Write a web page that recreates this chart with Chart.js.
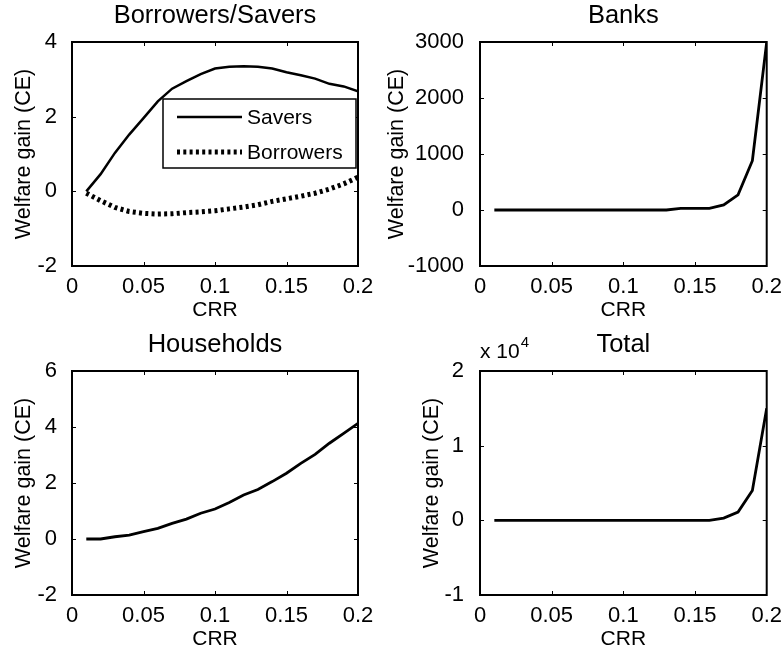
<!DOCTYPE html>
<html>
<head>
<meta charset="utf-8">
<script src="https://cdn.jsdelivr.net/npm/chart.js@4.4.0/dist/chart.umd.min.js"></script>
<style>
  body { margin: 0; background: #fff; }
  canvas { position: absolute; }
</style>
</head>
<body>
<canvas id="cBS" width="391" height="326" style="left:0;top:0"></canvas>
<canvas id="cBanks" width="402" height="326" style="left:380px;top:0"></canvas>
<canvas id="cHH" width="391" height="326" style="left:0;top:329px"></canvas>
<canvas id="cTotal" width="402" height="326" style="left:380px;top:329px"></canvas>
<script>
// CRR grid
const crr = [0.01, 0.02, 0.03, 0.04, 0.05, 0.06, 0.07, 0.08, 0.09, 0.10,
             0.11, 0.12, 0.13, 0.14, 0.15, 0.16, 0.17, 0.18, 0.19, 0.20];

// welfare gains
const savers = [0, 0.46, 1.03, 1.52, 1.96, 2.41, 2.75, 2.95, 3.14, 3.29,
                3.34, 3.35, 3.34, 3.29, 3.19, 3.11, 3.02, 2.88, 2.81, 2.68];
const borrowers = [-0.05, -0.25, -0.43, -0.54, -0.59, -0.61, -0.60, -0.57, -0.55, -0.52,
                   -0.47, -0.42, -0.36, -0.27, -0.20, -0.13, -0.05, 0.06, 0.20, 0.38];
const banks = [0, 0, 0, 0, 0, 0, 0, 0, 0, 0,
               0, 0, 0, 30, 30, 30, 90, 270, 880, 3000];
const households = [0, 0, 0.08, 0.14, 0.26, 0.38, 0.56, 0.71, 0.92, 1.07,
                    1.30, 1.57, 1.77, 2.05, 2.35, 2.70, 3.02, 3.42, 3.77, 4.13];
const total = [0, 0, 0, 0, 0, 0, 0, 0, 0, 0,
               0, 0, 0, 0, 0, 0, 300, 1100, 4000, 15000];

// tick labels
const xTicks = [0, 0.05, 0.1, 0.15, 0.2];
const yTicksBS = [-2, 0, 2, 4];
const yTicksBanks = [-1000, 0, 1000, 2000, 3000];
const yTicksHH = [-2, 0, 2, 4, 6];
const yTicksTotal = [-1, 0, 1, 2];   // x 10^4
const totalExp = 4;

const FONT = '"Liberation Sans", Arial, sans-serif';
Chart.defaults.font.family = FONT;
Chart.defaults.color = '#000';

const pts = (ys, scale = 1) => crr.map((x, i) => ({ x: x, y: ys[i] / scale }));

// MATLAB-like box with inward ticks, plus optional inset legend and exponent
const boxPlugin = {
  id: 'matlabBox',
  afterDraw(chart, args, opts) {
    const ctx = chart.ctx;
    const a = chart.chartArea;
    const sx = chart.scales.x, sy = chart.scales.y;
    ctx.save();
    ctx.strokeStyle = '#000';
    ctx.lineWidth = 1;
    ctx.beginPath();
    sx.ticks.forEach(t => {
      const px = Math.round(sx.getPixelForValue(t.value)) + 0.5;
      if (px < a.left + 2 || px > a.right - 2) return;
      ctx.moveTo(px, a.bottom); ctx.lineTo(px, a.bottom - 4);
      ctx.moveTo(px, a.top); ctx.lineTo(px, a.top + 4);
    });
    sy.ticks.forEach(t => {
      const py = Math.round(sy.getPixelForValue(t.value)) + 0.5;
      if (py < a.top + 2 || py > a.bottom - 2) return;
      ctx.moveTo(a.left, py); ctx.lineTo(a.left + 4, py);
      ctx.moveTo(a.right, py); ctx.lineTo(a.right - 4, py);
    });
    ctx.stroke();
    ctx.lineWidth = 2;
    ctx.strokeRect(a.left, a.top, a.right - a.left, a.bottom - a.top);

    if (opts.legend) {
      const lx = a.left + 91, ly = a.top + 57, lw = 193, lh = 69;
      ctx.fillStyle = '#fff';
      ctx.fillRect(lx, ly, lw, lh);
      ctx.lineWidth = 1.5;
      ctx.strokeRect(lx, ly, lw, lh);
      ctx.font = '21px ' + FONT;
      ctx.textBaseline = 'middle';
      ctx.fillStyle = '#000';
      chart.data.datasets.forEach((ds, i) => {
        const yy = ly + 18 + i * 35;
        ctx.beginPath();
        ctx.lineWidth = ds.borderWidth;
        ctx.setLineDash(ds.borderDash || []);
        ctx.moveTo(lx + 14, yy);
        ctx.lineTo(lx + 79, yy);
        ctx.stroke();
        ctx.setLineDash([]);
        ctx.fillText(ds.label, lx + 84, yy + 1);
      });
    }

    if (opts.exponent) {
      ctx.fillStyle = '#000';
      ctx.textBaseline = 'alphabetic';
      ctx.font = '21px ' + FONT;
      const base = 'x 10';
      ctx.fillText(base, a.left, a.top - 13);
      const w = ctx.measureText(base).width;
      ctx.font = '15px ' + FONT;
      ctx.fillText(String(opts.exponent), a.left + w + 1, a.top - 24);
    }
    ctx.restore();
  }
};

function makePanel(id, title, datasets, yMin, yMax, yTicks, cfg) {
  return new Chart(document.getElementById(id), {
    type: 'line',
    data: { datasets: datasets },
    options: {
      responsive: false,
      animation: false,
      layout: { padding: { left: 0, right: cfg.padRight, top: 0, bottom: 0 } },
      elements: { point: { radius: 0 }, line: { tension: 0 } },
      plugins: {
        legend: { display: false },
        tooltip: { enabled: false },
        title: {
          display: true, text: title, fullSize: false, color: '#000',
          font: { size: 25.5, weight: 'normal' },
          padding: { top: 1, bottom: 10.4 }
        },
        matlabBox: { legend: cfg.legend, exponent: cfg.exponent }
      },
      scales: {
        x: {
          type: 'linear', min: 0, max: 0.2,
          afterBuildTicks: s => { s.ticks = xTicks.map(v => ({ value: v })); },
          afterFit: s => { s.height = 60; },
          grid: { display: false },
          border: { display: false },
          ticks: { font: { size: 22 }, padding: 0, maxRotation: 0, autoSkip: false, callback: v => String(v) },
          title: { display: true, text: 'CRR', font: { size: 21 }, padding: { top: 0, bottom: 3 } }
        },
        y: {
          type: 'linear', min: yMin, max: yMax,
          afterBuildTicks: s => { s.ticks = yTicks.map(v => ({ value: v })); },
          afterFit: s => { s.width = cfg.yWidth; },
          grid: { display: false },
          border: { display: false },
          ticks: { font: { size: 22 }, padding: cfg.tickPad, autoSkip: false, callback: v => String(v) },
          title: { display: true, text: 'Welfare gain (CE)', font: { size: 21.5 }, padding: { top: cfg.yTitlePad, bottom: 0 } }
        }
      }
    },
    plugins: [boxPlugin]
  });
}

makePanel('cBS', 'Borrowers/Savers', [
  { label: 'Savers', data: pts(savers), borderColor: '#000', borderWidth: 2.5 },
  { label: 'Borrowers', data: pts(borrowers), borderColor: '#000', borderWidth: 5, borderDash: [3, 3.3] }
], -2, 4, yTicksBS, { padRight: 33, yWidth: 72, tickPad: 7, yTitlePad: 11, legend: true });

makePanel('cBanks', 'Banks', [
  { label: 'Banks', data: pts(banks), borderColor: '#000', borderWidth: 2.8 }
], -1000, 3000, yTicksBanks, { padRight: 15, yWidth: 100, tickPad: 8, yTitlePad: 4 });

makePanel('cHH', 'Households', [
  { label: 'Households', data: pts(households), borderColor: '#000', borderWidth: 2.8 }
], -2, 6, yTicksHH, { padRight: 33, yWidth: 72, tickPad: 7, yTitlePad: 11 });

makePanel('cTotal', 'Total', [
  { label: 'Total', data: pts(total, Math.pow(10, totalExp)), borderColor: '#000', borderWidth: 2.8 }
], -1, 2, yTicksTotal, { padRight: 15, yWidth: 100, tickPad: 8, yTitlePad: 39, exponent: totalExp });
</script>
</body>
</html>
